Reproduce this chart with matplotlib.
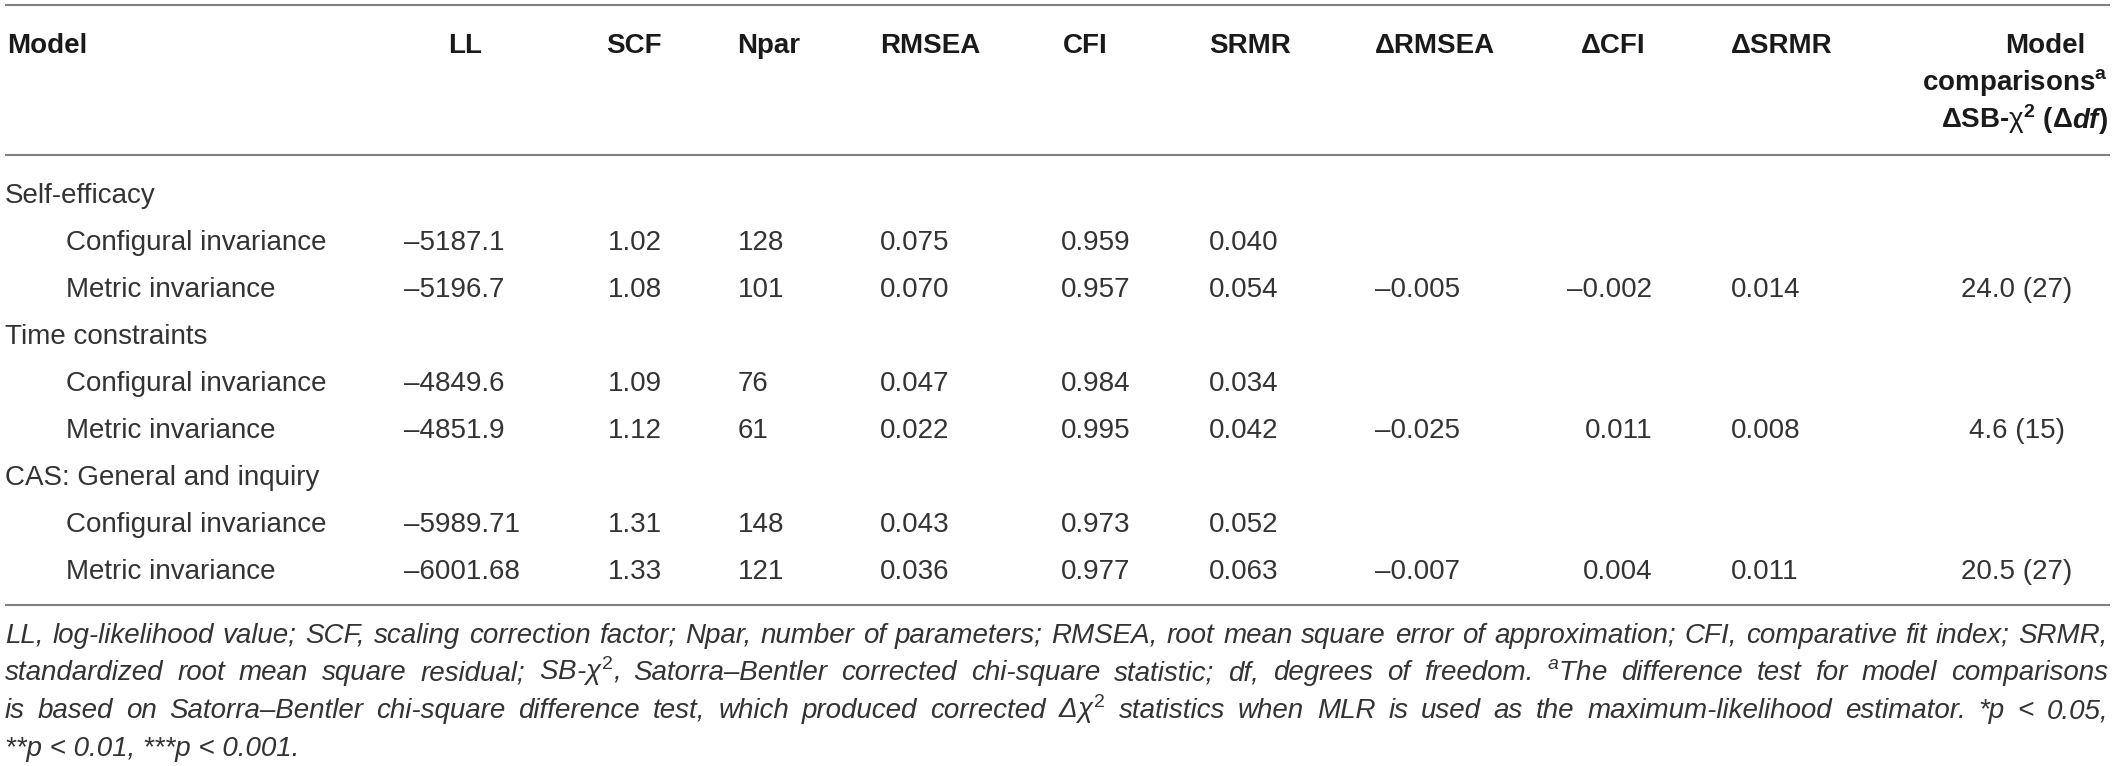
import matplotlib
matplotlib.use("Agg")
import matplotlib.pyplot as plt

# data
groups = ["Self-efficacy", "Time constraints", "CAS: General and inquiry"]
models = ["Configural invariance", "Metric invariance"]
ll = [-5187.1, -5196.7, -4849.6, -4851.9, -5989.71, -6001.68]
scf = [1.02, 1.08, 1.09, 1.12, 1.31, 1.33]
npar = [128, 101, 76, 61, 148, 121]
rmsea = [0.075, 0.070, 0.047, 0.022, 0.043, 0.036]
cfi = [0.959, 0.957, 0.984, 0.995, 0.973, 0.977]
srmr = [0.040, 0.054, 0.034, 0.042, 0.052, 0.063]
d_rmsea = [None, -0.005, None, -0.025, None, -0.007]
d_cfi = [None, -0.002, None, 0.011, None, 0.004]
d_srmr = [None, 0.014, None, 0.008, None, 0.011]
chi = [None, 24.0, None, 4.6, None, 20.5]
ddf = [None, 27, None, 15, None, 27]

headers = ["Model", "LL", "SCF", "Npar", "RMSEA", "CFI", "SRMR",
           "ΔRMSEA", "ΔCFI", "ΔSRMR"]

notes = [
    "LL, log-likelihood value; SCF, scaling correction factor; Npar, number of parameters; "
    "RMSEA, root mean square error of approximation; CFI, comparative fit index; SRMR,",
    r"standardized root mean square residual; SB-$\chi^{2}$, Satorra–Bentler corrected "
    r"chi-square statistic; df, degrees of freedom. $^{a}$The difference test for model comparisons",
    r"is based on Satorra–Bentler chi-square difference test, which produced corrected "
    r"Δ$\chi^{2}$ statistics when MLR is used as the maximum-likelihood estimator. *p < 0.05,",
    "**p < 0.01, ***p < 0.001.",
]

plt.rcParams["font.family"] = ["Liberation Sans", "DejaVu Sans"]
plt.rcParams["mathtext.fontset"] = "custom"
plt.rcParams["mathtext.rm"] = "Liberation Sans"
plt.rcParams["mathtext.it"] = "Liberation Sans:italic"
plt.rcParams["mathtext.bf"] = "Liberation Sans:bold"

W, H = 2118, 766
fig = plt.figure(figsize=(W / 100, H / 100), dpi=100)
ax = fig.add_axes([0, 0, 1, 1])
ax.set_xlim(0, W)
ax.set_ylim(H, 0)
ax.axis("off")
renderer = fig.canvas.get_renderer()

FS = 20
body = dict(fontsize=FS, color="#333333", va="baseline")
bold = dict(fontsize=FS, color="#1a1a1a", va="baseline", fontweight="bold")


def width(s, **kw):
    t = ax.text(0, 0, s, **kw)
    w = t.get_window_extent(renderer).width
    t.remove()
    return w


def run(x, y, pieces, ha="left"):
    # pieces: list of (text, kwargs), drawn one after another
    ws = [width(s, **kw) for s, kw in pieces]
    total = sum(ws)
    if ha == "center":
        x = x - total / 2
    elif ha == "right":
        x = x - total
    for (s, kw), w in zip(pieces, ws):
        ax.text(x, y, s, ha="left", **kw)
        x += w


def fmt(v, spec):
    return format(v, spec).replace("-", "–")


# rules
for yy in (5, 155, 605):
    ax.plot([5, 2110], [yy, yy], color="#808080", lw=1.5, solid_capstyle="butt")

# header
hx = [7, 448, 606, 737, 880, 1063, 1209, 1375, 1581, 1731]
for x, h in zip(hx, headers):
    ax.text(x, 53, h, ha="left", **bold)
ax.text(2045, 53, "Model", ha="center", **bold)
ax.text(2108, 90.5, r"comparisons$^{\mathbf{a}}$", ha="right", **bold)
bi = dict(bold, fontstyle="italic")
run(2108, 128, [(r"ΔSB-$\mathrm{\chi}^{\mathbf{2}}$ (Δ", bold), ("df", bi), (")", bold)],
    ha="right")

# body
y0, dy = 203, 47
for g, name in enumerate(groups):
    ax.text(5, y0 + dy * 3 * g, name, ha="left", **body)
    for k, m in enumerate(models):
        i = 2 * g + k
        y = y0 + dy * (3 * g + 1 + k)
        ax.text(66, y, m, ha="left", **body)
        ax.text(404, y, fmt(ll[i], "g"), ha="left", **body)
        ax.text(608, y, fmt(scf[i], ".2f"), ha="left", **body)
        ax.text(738, y, str(npar[i]), ha="left", **body)
        ax.text(880, y, fmt(rmsea[i], ".3f"), ha="left", **body)
        ax.text(1061, y, fmt(cfi[i], ".3f"), ha="left", **body)
        ax.text(1209, y, fmt(srmr[i], ".3f"), ha="left", **body)
        if d_rmsea[i] is not None:
            ax.text(1375, y, fmt(d_rmsea[i], ".3f"), ha="left", **body)
            ax.text(1652, y, fmt(d_cfi[i], ".3f"), ha="right", **body)
            ax.text(1731, y, fmt(d_srmr[i], ".3f"), ha="left", **body)
            ax.text(2017, y, f"{chi[i]:.1f} ({ddf[i]})", ha="center", **body)

# footnote, justified like the journal layout
note = dict(fontsize=FS, color="#333333", va="baseline", fontstyle="italic")
x0, x1 = 5, 2108
for j, line in enumerate(notes):
    y = 643 + 37.5 * j
    if j == len(notes) - 1:
        ax.text(x0, y, line, ha="left", **note)
        continue
    words = line.split(" ")
    ws = [width(w, **note) for w in words]
    gap = (x1 - x0 - sum(ws)) / (len(words) - 1)
    x = x0
    for w, wd in zip(words, ws):
        ax.text(x, y, w, ha="left", **note)
        x += wd + gap

fig.savefig("out.png", dpi=100)
